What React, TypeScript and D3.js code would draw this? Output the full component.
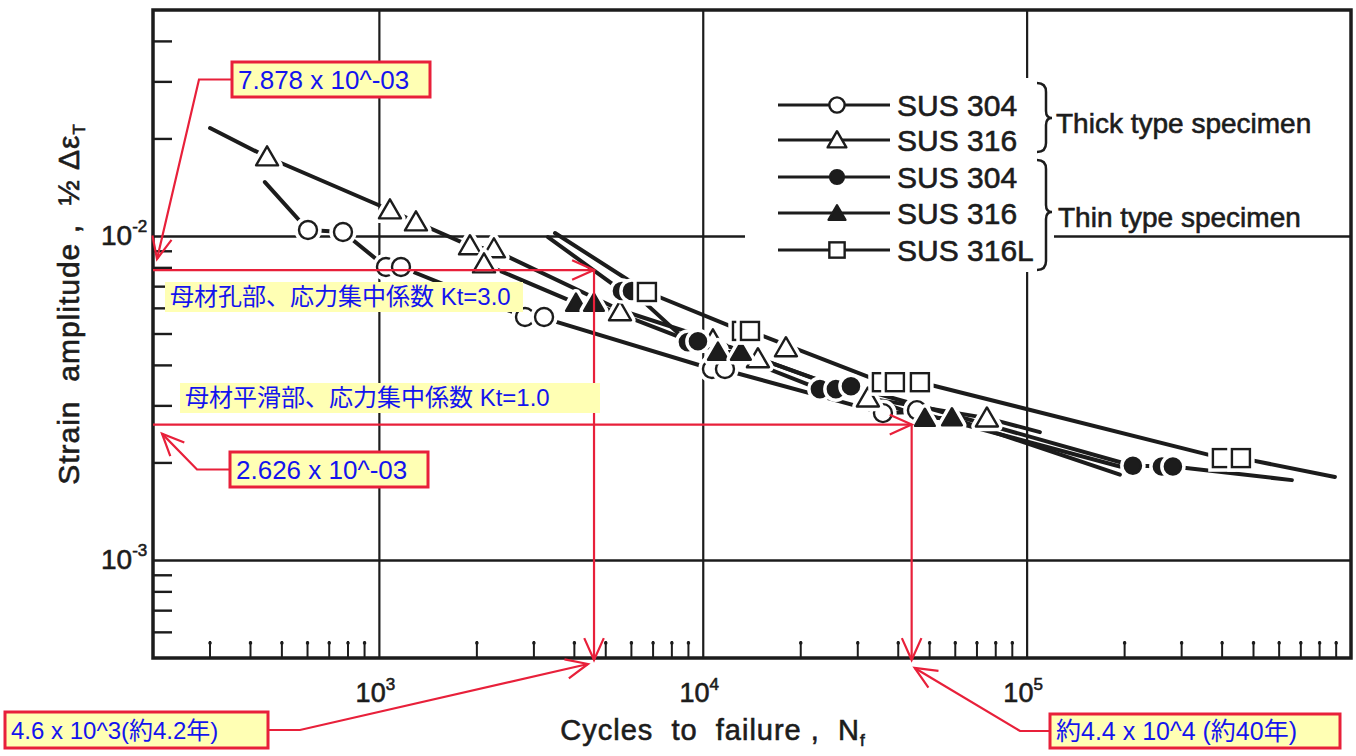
import React from "react";
import * as d3 from "d3";

// ---------------- data ----------------
// Thick type specimen, SUS304 (open circles)
const thick304Cycles = [602, 772, 1048, 1166, 2816, 3224, 10640, 11670, 35880, 45680];
const thick304Strain = [0.01047, 0.01032, 0.00805, 0.00805, 0.00564, 0.00564, 0.0039, 0.0039, 0.00285, 0.00291];
// Thick type specimen, SUS316 (open triangles)
const thick316Cycles = [450, 1078, 1297, 1904, 2258, 2104, 5532, 10710, 14750, 18000, 32240, 75140];
const thick316Strain = [0.01759, 0.01207, 0.01108, 0.00935, 0.00915, 0.00822, 0.00585, 0.00479, 0.00419, 0.00453, 0.00317, 0.00275];
// Thin type specimen, SUS304 (filled circles)
const thin304Cycles = [5610, 6024, 8968, 9630, 22920, 25680, 28580, 212100, 260700, 281900];
const thin304Strain = [0.00679, 0.00679, 0.00472, 0.00475, 0.00338, 0.00338, 0.00345, 0.00196, 0.00195, 0.00195];
// Thin type specimen, SUS316 (filled triangles)
const thin316Cycles = [4046, 4598, 11100, 13070, 48340, 58600];
const thin316Strain = [0.00623, 0.00623, 0.0044, 0.0044, 0.00275, 0.00276];
// Thin type specimen, SUS316L (open squares)
const thin316LCycles = [6700, 13170, 13940, 35620, 39060, 46660, 399400, 457200];
const thin316LStrain = [0.00674, 0.00511, 0.00511, 0.00355, 0.00355, 0.00355, 0.00207, 0.00207];

// fitted curves
const fitThick316Cycles = [300, 450, 1078, 1297, 1904, 2258, 5532, 10710, 14750, 32240, 75140, 109500];
const fitThick316Strain = [0.02161, 0.01759, 0.01207, 0.01108, 0.00935, 0.00908, 0.00593, 0.00479, 0.00421, 0.00317, 0.00275, 0.00249];
const fitThin316Cycles = [2104, 4046, 4598, 11100, 13070, 48340, 58600, 193400];
const fitThin316Strain = [0.00822, 0.00623, 0.00619, 0.0044, 0.0044, 0.00275, 0.00275, 0.00184];
const fitThick304Cycles = [443, 602, 772, 1048, 1166, 2816, 3224, 10640, 11670, 35880, 45680, 193400];
const fitThick304Strain = [0.01472, 0.01047, 0.01032, 0.00805, 0.00805, 0.00564, 0.0056, 0.0039, 0.00387, 0.00285, 0.00287, 0.00195];
const fitThin304Cycles = [3316, 5610, 6024, 8968, 9630, 22920, 28580, 212100, 281900, 657000];
const fitThin304Strain = [0.00996, 0.00679, 0.00679, 0.00472, 0.00475, 0.00338, 0.00345, 0.00196, 0.00195, 0.00177];
const fitThin316LCycles = [3485, 6700, 13170, 13940, 35620, 46660, 399400, 457200, 892000];
const fitThin316LStrain = [0.01025, 0.00674, 0.00511, 0.00511, 0.00355, 0.00355, 0.00207, 0.00207, 0.00181];

// axes
const xDomain = [200, 1e6];
const yDomain = [0.0005, 0.05];
const xMajorTicks = [1e3, 1e4, 1e5];
const xMajorExps = ["3", "4", "5"];
const yMajorTicks = [1e-2, 1e-3];
const yMajorExps = ["-2", "-3"];
const minorMultipliers = [2, 3, 4, 5, 6, 7, 8, 9];
const decades = [1e-4, 1e-3, 1e-2, 1e2, 1e3, 1e4, 1e5];

// legend
const legendLabels = ["SUS 304", "SUS 316", "SUS 304", "SUS 316", "SUS 316L"];
const legendKinds = ["oc", "ot", "fc", "ft", "os"];
const groupLabels = ["Thick type specimen", "Thin type specimen"];

// annotations
const annoStrain = [0.007878, 0.002626];
const annoCycles = [4600, 44000];
const annoStrainText = ["7.878 x 10^-03", "2.626 x 10^-03"];
const annoCyclesText = ["4.6 x 10^3(約4.2年)", "約4.4 x 10^4 (約40年)"];
const ktLabels = ["母材孔部、応力集中係数 Kt=3.0", "母材平滑部、応力集中係数 Kt=1.0"];

// ---------------- layout ----------------
const W = 1356, H = 756;
const PL = 153, PR = 1351, PT = 10, PB = 658;
const ink = "#1c1c1c";
const red = "#e8203a";
const blue = "#1414ee";
const yellow = "#ffffb4";
const sans = "'Liberation Sans', Arial, sans-serif";
const jp = "'Liberation Sans', 'Noto Sans CJK JP', sans-serif";

const x = d3.scaleLog().domain(xDomain).range([PL, PR]);
const y = d3.scaleLog().domain(yDomain).range([PB, PT]);

function triPath(s: number) {
  const h = s * 0.866;
  return `M0,${-2 * h / 3}L${s / 2},${h / 3}L${-s / 2},${h / 3}Z`;
}

function Marker({ kind, cx, cy, scale = 1 }: { kind: string; cx: number; cy: number; scale?: number }) {
  const sw = 2.4;
  const halo = 7;
  const r = 9 * scale;
  const t = 22 * scale;
  const q = 18 * scale;
  const g = (el: (stroke: string, w: number, fill: string) => React.ReactNode) => (
    <g transform={`translate(${cx},${cy})`}>
      {scale === 1 ? el("#fff", sw + halo, "#fff") : null}
      {el(ink, sw, kind[0] === "f" ? ink : "#fff")}
    </g>
  );
  if (kind === "oc" || kind === "fc") {
    const rr = kind === "fc" ? r * 0.9 : r;
    return g((s, w, f) => <circle r={rr} fill={f} stroke={s} strokeWidth={w} />);
  }
  if (kind === "ot" || kind === "ft") {
    return g((s, w, f) => <path d={triPath(kind === "ft" ? t * 0.9 : t)} transform="translate(0,2)" fill={f} stroke={s} strokeWidth={w} strokeLinejoin="round" />);
  }
  return g((s, w, f) => <rect x={-q / 2} y={-q / 2} width={q} height={q} fill={f} stroke={s} strokeWidth={w} />);
}

function arrowHead(tx: number, ty: number, fx: number, fy: number, len = 24, spread = 0.42) {
  const a = Math.atan2(ty - fy, tx - fx);
  const p1 = [tx - len * Math.cos(a - spread), ty - len * Math.sin(a - spread)];
  const p2 = [tx - len * Math.cos(a + spread), ty - len * Math.sin(a + spread)];
  return `M${p1[0]},${p1[1]}L${tx},${ty}L${p2[0]},${p2[1]}`;
}

function brace(x0: number, y0: number, y1: number, ym: number) {
  const d = 9;
  return `M${x0},${y0}Q${x0 + d},${y0} ${x0 + d},${y0 + 9}L${x0 + d},${ym - 7}Q${x0 + d},${ym} ${x0 + d + 6},${ym}Q${x0 + d},${ym} ${x0 + d},${ym + 7}L${x0 + d},${y1 - 9}Q${x0 + d},${y1} ${x0},${y1}`;
}

const scanText = { fontFamily: sans, fill: ink, stroke: ink, strokeWidth: 0.6 };

export default function App() {
  const series = [
    { c: thick304Cycles, s: thick304Strain, k: "oc" },
    { c: thick316Cycles, s: thick316Strain, k: "ot" },
    { c: thin304Cycles, s: thin304Strain, k: "fc" },
    { c: thin316Cycles, s: thin316Strain, k: "ft" },
    { c: thin316LCycles, s: thin316LStrain, k: "os" },
  ];
  const fits = [
    { c: fitThick316Cycles, s: fitThick316Strain },
    { c: fitThin316Cycles, s: fitThin316Strain },
    { c: fitThick304Cycles, s: fitThick304Strain },
    { c: fitThin304Cycles, s: fitThin304Strain },
    { c: fitThin316LCycles, s: fitThin316LStrain },
  ];
  const line = d3.line<[number, number]>().x((d) => x(d[0])).y((d) => y(d[1]));

  const minorX: number[] = [];
  const minorY: number[] = [];
  decades.forEach((d) =>
    minorMultipliers.forEach((m) => {
      const v = d * m;
      if (d >= 100 && v > xDomain[0] && v < xDomain[1]) minorX.push(v);
      if (d < 1 && v > yDomain[0] && v < yDomain[1]) minorY.push(v);
    })
  );

  const legendRowY = [105, 140, 177, 213, 250];

  // annotation geometry derived from the scales
  const yA = y(annoStrain[0]);
  const yB = y(annoStrain[1]);
  const xC = x(annoCycles[0]);
  const xD = x(annoCycles[1]);

  const boxA = { x: 232, y: 62, w: 198, h: 35 };
  const boxB = { x: 230, y: 452, w: 198, h: 35 };
  const boxC = { x: 5, y: 712, w: 263, h: 36 };
  const boxD = { x: 1050, y: 714, w: 290, h: 34 };
  const ktBox = [
    { x: 165, y: 282, w: 358, h: 30 },
    { x: 180, y: 383, w: 420, h: 30 },
  ];

  const tipA = [PL + 4, yA - 11];
  const tipB = [PL + 9, yB + 9];
  const tipC = [xC - 6, PB + 6];
  const tipD = [xD + 3, PB + 10];
  const kneeA = [199, boxA.y + boxA.h / 2];
  const kneeB = [197, boxB.y + boxB.h / 2];
  const kneeC = [300, boxC.y + boxC.h / 2];
  const kneeD = [1020, boxD.y + boxD.h / 2];

  return (
    <svg width={W} height={H} style={{ position: "absolute", left: 0, top: 0, background: "#fff" }}>
      <rect width={W} height={H} fill="#fff" />
      {/* grid */}
      {xMajorTicks.map((v) => (
        <line key={"gx" + v} x1={x(v)} x2={x(v)} y1={PT} y2={PB} stroke={ink} strokeWidth={2.2} />
      ))}
      {yMajorTicks.map((v) => (
        <line key={"gy" + v} x1={PL} x2={PR} y1={y(v)} y2={y(v)} stroke={ink} strokeWidth={2.4} />
      ))}
      {/* minor ticks */}
      {minorX.map((v) => (
        <g key={"mx" + v}>
          <line x1={x(v)} x2={x(v)} y1={PB} y2={PB - 17} stroke={ink} strokeWidth={2} />
          <circle cx={x(v)} cy={PB - 15} r={1.8} fill={ink} />
        </g>
      ))}
      {minorY.map((v) => (
        <g key={"my" + v}>
          <line x1={PL} x2={PL + 19} y1={y(v)} y2={y(v)} stroke={ink} strokeWidth={2.4} />
        </g>
      ))}
      {/* frame */}
      <rect x={PL} y={PT} width={PR - PL} height={PB - PT} fill="none" stroke={ink} strokeWidth={3.5} />

      {/* tick labels */}
      {xMajorTicks.map((v, i) => (
        <text key={"xl" + v} x={x(v) - 4} y={702} {...scanText} fontSize={27} textAnchor="middle">
          10
          <tspan dy={-12} fontSize={17}>{xMajorExps[i]}</tspan>
        </text>
      ))}
      {yMajorTicks.map((v, i) => (
        <text key={"yl" + v} x={101} y={y(v) + 9} {...scanText} fontSize={28}>
          10
          <tspan dy={-13} fontSize={17}>{yMajorExps[i]}</tspan>
        </text>
      ))}

      {/* axis titles */}
      <text
        transform={`translate(79,304) rotate(-90)`}
        {...scanText}
        fontSize={30}
        textAnchor="middle"
        style={{ whiteSpace: "pre" }}
        letterSpacing={1}
      >
        {"Strain  amplitude ,  ½ Δε"}
        <tspan dy={6} fontSize={17}>T</tspan>
      </text>
      <text x={713} y={740} {...scanText} fontSize={29} textAnchor="middle" style={{ whiteSpace: "pre" }} letterSpacing={1}>
        {"Cycles  to  failure ,  N"}
        <tspan dy={6} fontSize={17}>f</tspan>
      </text>

      {/* fitted curves */}
      {fits.map((f, i) => (
        <path
          key={"fit" + i}
          d={line(f.c.map((c, j) => [c, f.s[j]] as [number, number])) || ""}
          fill="none"
          stroke={ink}
          strokeWidth={4}
          strokeLinecap="round"
          strokeLinejoin="round"
        />
      ))}
      {/* markers */}
      {series.map((s, i) => (
        <g key={"s" + i}>
          {s.c.map((c, j) => (
            <Marker key={j} kind={s.k} cx={x(c)} cy={y(s.s[j])} />
          ))}
        </g>
      ))}

      {/* legend */}
      <rect x={745} y={78} width={309} height={194} fill="#fff" />
      {legendLabels.map((lab, i) => (
        <g key={"lg" + i}>
          <line x1={778} x2={890} y1={legendRowY[i]} y2={legendRowY[i]} stroke={ink} strokeWidth={3} />
          <Marker kind={legendKinds[i]} cx={837} cy={legendRowY[i]} scale={0.85} />
          <text x={897} y={legendRowY[i] + 11} {...scanText} fontSize={30}>
            {lab}
          </text>
        </g>
      ))}
      <path d={brace(1037, 83, 152, 118)} fill="none" stroke={ink} strokeWidth={2.5} />
      <path d={brace(1037, 160, 270, 212)} fill="none" stroke={ink} strokeWidth={2.5} />
      <text x={1056} y={133} {...scanText} fontSize={28} style={{ whiteSpace: "pre" }}>
        {groupLabels[0]}
      </text>
      <text x={1058} y={227} {...scanText} fontSize={28} style={{ whiteSpace: "pre" }}>
        {groupLabels[1]}
      </text>

      {/* red guide lines */}
      <g stroke={red} strokeWidth={2.2} fill="none">
        <line x1={PL} x2={xC} y1={yA} y2={yA} />
        <path d={arrowHead(xC, yA, PL, yA)} />
        <line x1={xC} x2={xC} y1={yA} y2={PB + 2} />
        <path d={arrowHead(xC, PB + 2, xC, yA)} />
        <line x1={PL} x2={xD} y1={yB} y2={yB} />
        <path d={arrowHead(xD, yB, PL, yB)} />
        <line x1={xD} x2={xD} y1={yB} y2={PB + 2} />
        <path d={arrowHead(xD, PB + 2, xD, yB)} />
        {/* callout leaders */}
        <path d={`M${boxA.x},${kneeA[1]}L${kneeA[0]},${kneeA[1]}L${tipA[0]},${tipA[1]}`} />
        <path d={arrowHead(tipA[0], tipA[1], kneeA[0], kneeA[1])} />
        <path d={`M${boxB.x},${kneeB[1]}L${kneeB[0]},${kneeB[1]}L${tipB[0]},${tipB[1]}`} />
        <path d={arrowHead(tipB[0], tipB[1], kneeB[0], kneeB[1])} />
        <path d={`M${boxC.x + boxC.w},${kneeC[1]}L${kneeC[0]},${kneeC[1]}L${tipC[0]},${tipC[1]}`} />
        <path d={arrowHead(tipC[0], tipC[1], kneeC[0], kneeC[1])} />
        <path d={`M${boxD.x},${kneeD[1]}L${kneeD[0]},${kneeD[1]}L${tipD[0]},${tipD[1]}`} />
        <path d={arrowHead(tipD[0], tipD[1], kneeD[0], kneeD[1])} />
      </g>

      {/* Kt labels */}
      {ktLabels.map((t, i) => (
        <g key={"kt" + i}>
          <rect x={ktBox[i].x} y={ktBox[i].y} width={ktBox[i].w} height={ktBox[i].h} fill={yellow} />
          <text x={ktBox[i].x + 5} y={ktBox[i].y + 23} fontFamily={jp} fontSize={24} fill={blue} style={{ whiteSpace: "pre" }}>
            {t}
          </text>
        </g>
      ))}

      {/* callout boxes */}
      {[
        { b: boxA, t: annoStrainText[0], fs: 26 },
        { b: boxB, t: annoStrainText[1], fs: 26 },
        { b: boxC, t: annoCyclesText[0], fs: 24 },
        { b: boxD, t: annoCyclesText[1], fs: 25 },
      ].map((o, i) => (
        <g key={"cb" + i}>
          <rect x={o.b.x} y={o.b.y} width={o.b.w} height={o.b.h} fill={yellow} stroke={red} strokeWidth={3} />
          <text x={o.b.x + 6} y={o.b.y + o.b.h / 2 + o.fs * 0.36} fontFamily={jp} fontSize={o.fs} fill={blue} style={{ whiteSpace: "pre" }}>
            {o.t}
          </text>
        </g>
      ))}
    </svg>
  );
}
